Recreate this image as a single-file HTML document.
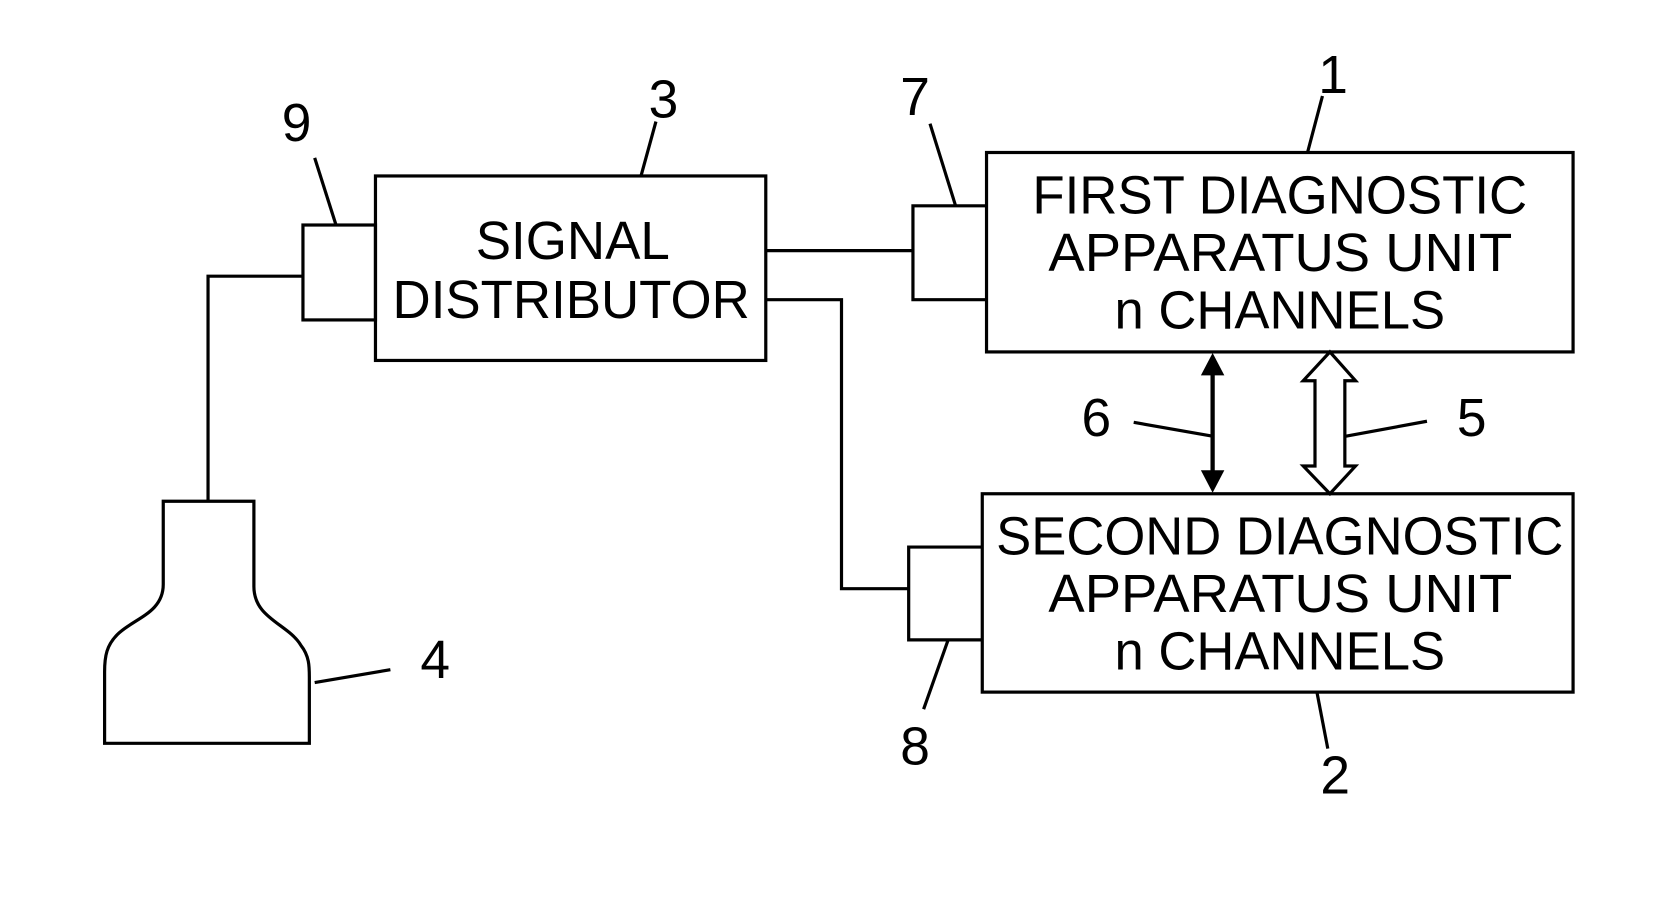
<!DOCTYPE html>
<html><head><style>html,body{margin:0;padding:0;background:#fff}svg{display:block}</style></head>
<body>
<svg width="1667" height="899" viewBox="0 0 1563 843" xmlns="http://www.w3.org/2000/svg">
<g fill="none" stroke="#000" stroke-width="3">
<rect x="352" y="165" width="366" height="173"/>
<rect x="284" y="211" width="68" height="89"/>
<rect x="925" y="143" width="550" height="187"/>
<rect x="921" y="463" width="554" height="186"/>
<polyline points="925,193 856,193 856,281 925,281"/>
<polyline points="921,513 852,513 852,600 921,600"/>
<polyline points="284,259 195,259 195,470"/>
<line x1="718" y1="235" x2="856" y2="235"/>
<polyline points="718,281 789,281 789,552 852,552"/>
<path d="M153,470 L238,470 L238,550 C238,580 270,585 282,605 C290,615 290,625 290,635 L290,697 L98,697 L98,630 C98,615 100,605 110,595 C125,580 153,575 153,548 Z"/>
<line x1="295" y1="148" x2="315" y2="211"/>
<line x1="615" y1="114" x2="601" y2="165"/>
<line x1="872" y1="116" x2="896" y2="193"/>
<line x1="1240" y1="90" x2="1226" y2="143"/>
<line x1="866" y1="665" x2="889" y2="600"/>
<line x1="1245" y1="702" x2="1235" y2="650"/>
<line x1="295" y1="640" x2="366" y2="628"/>
<line x1="1063" y1="396" x2="1137" y2="409"/>
<line x1="1338" y1="395" x2="1262" y2="409"/>
<line x1="1137" y1="345" x2="1137" y2="448" stroke-width="4"/>
<path d="M1247,330 L1271,357 L1261,357 L1261,437 L1271,437 L1247,463 L1222,437 L1233,437 L1233,357 L1222,357 Z" fill="#fff"/>
</g>
<polygon points="1137,331 1148,352 1126,352" fill="#000"/>
<polygon points="1137,462 1148,441 1126,441" fill="#000"/>
<g font-family="Liberation Sans, sans-serif" font-size="50" fill="#000" lengthAdjust="spacingAndGlyphs">
<text x="446" y="243" textLength="182" lengthAdjust="spacingAndGlyphs">SIGNAL</text>
<text x="368" y="298" textLength="335" lengthAdjust="spacingAndGlyphs">DISTRIBUTOR</text>
<text x="968" y="200" textLength="464" lengthAdjust="spacingAndGlyphs">FIRST DIAGNOSTIC</text>
<text x="983" y="254" textLength="435" lengthAdjust="spacingAndGlyphs">APPARATUS UNIT</text>
<text x="1045" y="308" textLength="310" lengthAdjust="spacingAndGlyphs">n CHANNELS</text>
<text x="934" y="520" textLength="532" lengthAdjust="spacingAndGlyphs">SECOND DIAGNOSTIC</text>
<text x="983" y="574" textLength="435" lengthAdjust="spacingAndGlyphs">APPARATUS UNIT</text>
<text x="1045" y="628" textLength="310" lengthAdjust="spacingAndGlyphs">n CHANNELS</text>
</g>
<g font-family="Liberation Sans, sans-serif" font-size="50" text-anchor="middle" fill="#000">
<text x="278" y="132">9</text>
<text x="622" y="110">3</text>
<text x="858" y="108">7</text>
<text x="1250" y="87">1</text>
<text x="408" y="636">4</text>
<text x="858" y="717">8</text>
<text x="1252" y="744">2</text>
<text x="1028" y="409">6</text>
<text x="1380" y="409">5</text>
</g>
</svg>
</body></html>
